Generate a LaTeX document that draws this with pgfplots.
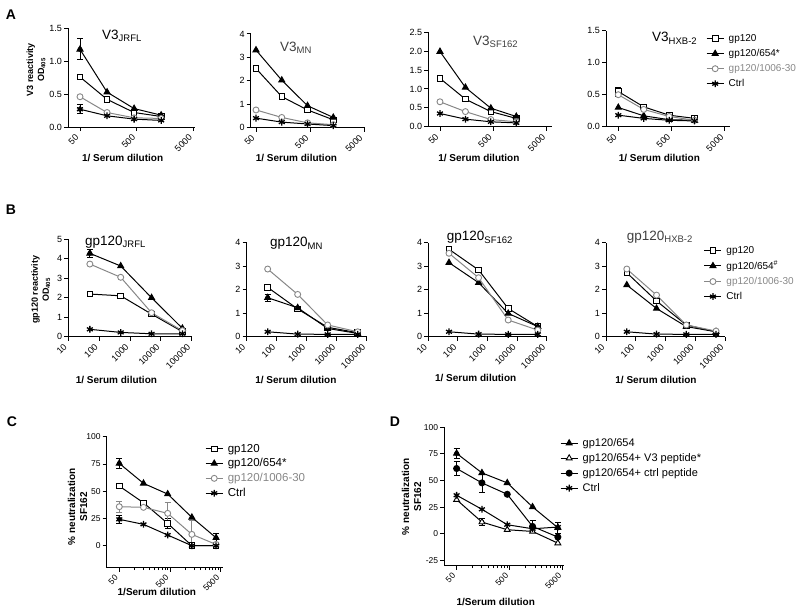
\documentclass[border=0pt]{standalone}
\usepackage{fontspec}
\setmainfont{Liberation Sans}
\usepackage{graphicx}
\usepackage{pgfplots}
\pgfplotsset{compat=1.18}
\definecolor{gcol}{RGB}{135,135,135}
\newcommand\ttl[2]{#1\raisebox{-2.5pt}{\fontsize{9.5}{10}\selectfont #2}}
\newcommand\rl[1]{\rotatebox{45}{#1}}
\pgfkeys{/pgf/number format/assume math mode=true}
\pgfplotsset{
 every axis/.append style={scale only axis, anchor=south west,
  axis lines*=left,
  axis line style={line width=0.9pt, black, -},
  tick style={line width=0.9pt, black},
  tick align=outside, major tick length=4pt, minor tick length=2.5pt,
  clip=false,
  tick label style={font=\fontsize{9}{10}\selectfont},
  xticklabel style={anchor=north east, inner sep=0.5pt},
  xticklabel shift=2pt,
  yticklabel style={inner sep=2pt},
  xlabel style={font=\bfseries\fontsize{10}{12}\selectfont, anchor=center},
  ylabel style={font=\bfseries\fontsize{9}{11}\selectfont, align=center, anchor=center},
  legend cell align=left,
  legend style={draw=none, fill=none, inner sep=0pt, row sep=4.3pt, column sep=3.5pt, nodes={inner sep=1pt}},
 },
 onedec/.style={yticklabel style={/pgf/number format/fixed, /pgf/number format/fixed zerofill, /pgf/number format/precision=1}},
 xa/.style={xtick={50,500,5000}, xticklabels={\rl{50},\rl{500},\rl{5000}}},
 xb/.style={xtick={10,100,1000,10000,100000}, xticklabels={\rl{10},\rl{100},\rl{1000},\rl{10000},\rl{100000}}},
 sq/.style={black, line width=1pt, mark=square*, mark size=2.8pt, mark options={fill=white, solid, line width=0.9pt}},
 tri/.style={black, line width=1pt, mark=triangle*, mark size=3.4pt, mark options={fill=black, solid}},
 otri/.style={black, line width=1pt, mark=triangle*, mark size=3.4pt, mark options={fill=white, solid, line width=0.9pt}},
 circ/.style={gcol, line width=1pt, mark=*, mark size=3pt, mark options={fill=white, draw=gcol, solid, line width=0.9pt}},
 fcirc/.style={black, line width=1pt, mark=*, mark size=3pt, mark options={fill=black, solid}},
 star/.style={black, line width=1pt, mark=asterisk, mark size=3.4pt, mark options={line width=1.3pt, solid}},
 errb/.style={forget plot, line width=0.8pt, only marks, mark=none,
   error bars/y dir=both, error bars/y explicit,
   error bars/error bar style={line width=0.8pt},
   error bars/error mark options={rotate=90, mark size=3pt, line width=0.8pt}},
}
\begin{document}
\begin{tikzpicture}
\useasboundingbox (0,0) rectangle (800pt,-611pt);
% ---------------- Panel A ----------------
\begin{axis}[xmode=log, xminorticks=false, onedec, xa, at={(68pt,-127pt)}, width=127pt, height=98.7pt,
 xmin=30.7, xmax=5335, ymin=0, ymax=1.5, ytick={0,0.5,1,1.5},
 xlabel={1/ Serum dilution}, xlabel style={at={(axis description cs:0.43,0)}, yshift=-31.3pt},
 ylabel={V3 reactivity\\OD\textsubscript{405}}, ylabel style={at={(axis description cs:-0.252,0.578)}}]
\addplot[black, errb] coordinates {(50,1.18) +- (0,0.16) (50,0.76) +- (0,0.04) (50,0.27) +- (0,0.07)};
\addplot[sq] coordinates {(50,0.76) (150,0.42) (450,0.22) (1350,0.16)};
\addplot[tri] coordinates {(50,1.18) (150,0.53) (450,0.28) (1350,0.18)};
\addplot[circ] coordinates {(50,0.46) (150,0.22) (450,0.14) (1350,0.13)};
\addplot[star] coordinates {(50,0.27) (150,0.17) (450,0.12) (1350,0.10)};
\end{axis}
\begin{axis}[xmode=log, xminorticks=false, xa, at={(250.7pt,-127.5pt)}, width=114.3pt, height=93.6pt,
 xmin=39.9, xmax=5218, ymin=0, ymax=4, ytick={0,1,2,3,4},
 xlabel={1/ Serum dilution}, xlabel style={at={(axis description cs:0.40,0)}, yshift=-30.8pt}]
\addplot[sq] coordinates {(50,2.52) (150,1.32) (450,0.75) (1350,0.33)};
\addplot[tri] coordinates {(50,3.31) (150,2.02) (450,0.93) (1350,0.43)};
\addplot[circ] coordinates {(50,0.75) (150,0.43) (450,0.20) (1350,0.12)};
\addplot[star] coordinates {(50,0.40) (150,0.23) (450,0.15) (1350,0.08)};
\end{axis}
\begin{axis}[xmode=log, xminorticks=false, onedec, xa, at={(428.3pt,-126.7pt)}, width=123.4pt, height=94.4pt,
 xmin=30.2, xmax=6237, ymin=0, ymax=2.5, ytick={0,0.5,1,1.5,2,2.5},
 xlabel={1/ Serum dilution}, xlabel style={at={(axis description cs:0.41,0)}, yshift=-31.6pt}]
\addplot[sq] coordinates {(50,1.28) (150,0.73) (450,0.40) (1350,0.22)};
\addplot[tri] coordinates {(50,1.99) (150,1.04) (450,0.49) (1350,0.27)};
\addplot[circ] coordinates {(50,0.66) (150,0.40) (450,0.19) (1350,0.13)};
\addplot[star] coordinates {(50,0.35) (150,0.20) (450,0.13) (1350,0.10)};
\end{axis}
\begin{axis}[xmode=log, xminorticks=false, onedec, xa, at={(606pt,-126.7pt)}, width=124pt, height=96pt,
 xmin=29.4, xmax=6237, ymin=0, ymax=1.5, ytick={0,0.5,1,1.5},
 xlabel={1/ Serum dilution}, xlabel style={at={(axis description cs:0.43,0)}, yshift=-31.6pt},
 legend style={at={(axis description cs:0.806,0.973)}, anchor=north west, font=\fontsize{10}{12}\selectfont}]
\addplot[black, errb] coordinates {(50,0.55) +- (0,0.07)};
\addplot[sq] coordinates {(50,0.55) (150,0.31) (450,0.18) (1350,0.13)};
\addlegendentry{gp120}
\addplot[tri] coordinates {(50,0.30) (150,0.17) (450,0.11) (1350,0.10)};
\addlegendentry{gp120/654*}
\addplot[circ] coordinates {(50,0.50) (150,0.27) (450,0.16) (1350,0.10)};
\addlegendentry{\textcolor{gcol}{gp120/1006-30}}
\addplot[star] coordinates {(50,0.18) (150,0.13) (450,0.10) (1350,0.09)};
\addlegendentry{Ctrl}
\end{axis}
% ---------------- Panel B ----------------
\begin{axis}[xmode=log, xminorticks=false, xb, at={(68.3pt,-336.7pt)}, width=123.4pt, height=97.4pt,
 xmin=10, xmax=100000, ymin=0, ymax=5, ytick={0,1,2,3,4,5},
 xlabel={1/ Serum dilution}, xlabel style={at={(axis description cs:0.39,0)}, yshift=-43.3pt},
 ylabel={gp120 reactivity\\OD\textsubscript{405}}, ylabel style={at={(axis description cs:-0.223,0.48)}}]
\addplot[black, errb] coordinates {(50,4.28) +- (0,0.22)};
\addplot[sq] coordinates {(50,2.19) (500,2.10) (5000,1.16) (50000,0.26)};
\addplot[tri] coordinates {(50,4.28) (500,3.63) (5000,2.00) (50000,0.43)};
\addplot[circ] coordinates {(50,3.73) (500,3.05) (5000,1.23) (50000,0.31)};
\addplot[star] coordinates {(50,0.38) (500,0.22) (5000,0.15) (50000,0.15)};
\end{axis}
\begin{axis}[xmode=log, xminorticks=false, xb, at={(246.7pt,-336.7pt)}, width=120pt, height=94pt,
 xmin=10, xmax=100000, ymin=0, ymax=4, ytick={0,1,2,3,4},
 xlabel={1/ Serum dilution}, xlabel style={at={(axis description cs:0.41,0)}, yshift=-43.3pt}]
\addplot[black, errb] coordinates {(50,2.10) +- (0,0.12) (50,1.66) +- (0,0.15)};
\addplot[sq] coordinates {(50,2.10) (500,1.18) (5000,0.40) (50000,0.17)};
\addplot[tri] coordinates {(50,1.66) (500,1.23) (5000,0.35) (50000,0.14)};
\addplot[circ] coordinates {(50,2.88) (500,1.80) (5000,0.50) (50000,0.21)};
\addplot[star] coordinates {(50,0.21) (500,0.11) (5000,0.10) (50000,0.10)};
\end{axis}
\begin{axis}[xmode=log, xminorticks=false, xb, at={(428.3pt,-336.7pt)}, width=118.4pt, height=94pt,
 xmin=10, xmax=100000, ymin=0, ymax=4, ytick={0,1,2,3,4},
 xlabel={1/ Serum dilution}, xlabel style={at={(axis description cs:0.40,0)}, yshift=-41.6pt}]
\addplot[sq] coordinates {(50,3.72) (500,2.84) (5000,1.20) (50000,0.43)};
\addplot[tri] coordinates {(50,3.15) (500,2.30) (5000,0.99) (50000,0.43)};
\addplot[circ] coordinates {(50,3.55) (500,2.51) (5000,0.71) (50000,0.28)};
\addplot[star] coordinates {(50,0.21) (500,0.11) (5000,0.10) (50000,0.10)};
\end{axis}
\begin{axis}[xmode=log, xminorticks=false, xb, at={(606pt,-336.7pt)}, width=119pt, height=94pt,
 xmin=10, xmax=100000, ymin=0, ymax=4, ytick={0,1,2,3,4},
 xlabel={1/ Serum dilution}, xlabel style={at={(axis description cs:0.42,0)}, yshift=-43.3pt},
 legend style={at={(axis description cs:0.821,0.976)}, anchor=north west, font=\fontsize{10}{12}\selectfont}]
\addplot[sq] coordinates {(50,2.72) (500,1.52) (5000,0.50) (50000,0.21)};
\addlegendentry{gp120}
\addplot[tri] coordinates {(50,2.20) (500,1.20) (5000,0.43) (50000,0.21)};
\addlegendentry{gp120/654\textsuperscript{\#}}
\addplot[circ] coordinates {(50,2.88) (500,1.77) (5000,0.50) (50000,0.24)};
\addlegendentry{\textcolor{gcol}{gp120/1006-30}}
\addplot[star] coordinates {(50,0.21) (500,0.11) (5000,0.10) (50000,0.10)};
\addlegendentry{Ctrl}
\end{axis}
% ---------------- Panel C ----------------
\begin{axis}[xmode=log, xa, at={(106.7pt,-567.5pt)}, width=116.6pt, height=130.8pt,
 xmin=28.2, xmax=5630, ymin=-20, ymax=100, ytick={0,25,50,75,100},
 tick label style={font=\fontsize{8.5}{10}\selectfont},
 minor xtick={100,150,200,250,300,350,400,450,1000,1500,2000,2500,3000,3500,4000,4500},
 xlabel={1/Serum dilution}, xlabel style={at={(axis description cs:0.43,0)}, yshift=-24.2pt},
 ylabel={\% neutralization\\SF162}, ylabel style={font=\bfseries\fontsize{10}{12}\selectfont, at={(axis description cs:-0.25,0.465)}},
 legend style={at={(axis description cs:0.843,0.953)}, anchor=north west, row sep=3pt, font=\fontsize{11.5}{13}\selectfont}]
\addplot[black, errb] coordinates {(50,75.5) +- (0,4.5) (4050,7.3) +- (0,4) (450,20.5) +- (0,4.5) (50,24.2) +- (0,4)};
\addplot[gcol, errb] coordinates {(50,35.8) +- (0,5) (450,29.7) +- (0,10) (1350,10.4) +- (0,13)};
\addplot[sq] coordinates {(50,54.7) (150,39.4) (450,20.5) (1350,0) (4050,0)};
\addlegendentry{gp120}
\addplot[tri] coordinates {(50,75.5) (150,57.2) (450,47.4) (1350,26) (4050,7.3)};
\addlegendentry{gp120/654*}
\addplot[circ] coordinates {(50,35.8) (150,35.2) (450,29.7) (1350,10.4) (4050,1.2)};
\addlegendentry{\textcolor{gcol}{gp120/1006-30}}
\addplot[star] coordinates {(50,24.2) (150,19.6) (450,9.8) (1350,0) (4050,0)};
\addlegendentry{Ctrl}
\end{axis}
% ---------------- Panel D ----------------
\begin{axis}[xmode=log, xa, at={(444.3pt,-565.7pt)}, width=119.7pt, height=138.4pt,
 xmin=29.3, xmax=5290, ymin=-30, ymax=100, ytick={-25,0,25,50,75,100},
 tick label style={font=\fontsize{8.5}{10}\selectfont},
 minor xtick={100,150,200,250,300,350,400,450,1000,1500,2000,2500,3000,3500,4000,4500},
 xlabel={1/Serum dilution}, xlabel style={at={(axis description cs:0.43,0)}, yshift=-36pt},
 ylabel={\% neutralization\\SF162}, ylabel style={font=\bfseries\fontsize{10}{12}\selectfont, at={(axis description cs:-0.274,0.4985)}},
 legend style={at={(axis description cs:0.966,0.928)}, anchor=north west, row sep=3.5pt, font=\fontsize{11}{13}\selectfont}]
\addplot[black, errb] coordinates {(50,75.5) +- (0,4.5) (4050,5.7) +- (0,5) (150,11) +- (0,3.5) (50,61.3) +- (0,6.5) (150,47.8) +- (0,9) (1350,6.9) +- (0,6)};
\addplot[tri] coordinates {(50,75.5) (150,57.2) (450,47.8) (1350,25.2) (4050,5.7)};
\addlegendentry{gp120/654}
\addplot[otri] coordinates {(50,32) (150,11) (450,3.8) (1350,2.2) (4050,-8.8)};
\addlegendentry{gp120/654+ V3 peptide*}
\addplot[fcirc] coordinates {(50,61.3) (150,47.8) (450,37.1) (1350,6.9) (4050,-3.1)};
\addlegendentry{gp120/654+ ctrl peptide}
\addplot[star] coordinates {(50,36.2) (150,23) (450,8.5) (1350,4.7) (4050,6.3)};
\addlegendentry{Ctrl}
\end{axis}
% ---------------- titles and panel letters ----------------
\begin{scope}[every node/.style={anchor=base west, inner sep=0pt, font=\fontsize{13.5}{14}\selectfont}]
\node at (102pt,-39.3pt) {\ttl{V3}{JRFL}};
\node[text=black!75] at (280pt,-51pt) {\ttl{V3}{MN}};
\node[text=black!75] at (473pt,-45pt) {\ttl{V3}{SF162}};
\node at (652pt,-41.7pt) {\ttl{V3}{HXB-2}};
\node at (85pt,-245pt) {\ttl{gp120}{JRFL}};
\node at (270pt,-246.7pt) {\ttl{gp120}{MN}};
\node at (446.7pt,-240.7pt) {\ttl{gp120}{SF162}};
\node[text=black!75] at (626.7pt,-240pt) {\ttl{gp120}{HXB-2}};
\end{scope}
\begin{scope}[every node/.style={anchor=center, inner sep=0pt, font=\bfseries\fontsize{14}{16}\selectfont}]
\node at (11pt,-15pt) {A};
\node at (11pt,-210pt) {B};
\node at (12pt,-422pt) {C};
\node at (395pt,-422pt) {D};
\end{scope}
\end{tikzpicture}
\end{document}
